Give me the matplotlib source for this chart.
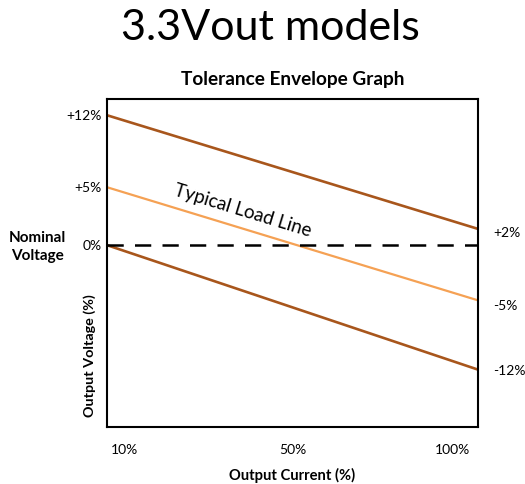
import matplotlib
matplotlib.use("Agg")
import matplotlib.pyplot as plt

plt.rcParams['font.family'] = ['Lato', 'DejaVu Sans']

# Data (schematic tolerance envelope, output voltage deviation in %, as drawn)
load_pos = [0, 100]               # left edge -> right edge of load range
upper_env = [12, 1.5]
typical = [5.35, -5.1]
lower_env = [0, -11.5]
nominal = [0, 0]

xtick_pos = [4.7, 50, 93]
xtick_labels = ["10%", "50%", "100%"]
left_ticks = [12, 5.35, 0]
left_labels = ["+12%", "+5%", "0%"]
right_ticks = [1.2, -5.55, -11.55]
right_labels = ["+2%", "-5%", "-12%"]

brown = "#A8561C"
orange = "#F5A154"

fig = plt.figure(figsize=(5.25, 4.84), dpi=100)
ax = fig.add_axes([107/525, 1-427/484, 371/525, 328/484])

ax.plot(load_pos, upper_env, color=brown, lw=1.9, solid_capstyle='butt')
ax.plot(load_pos, lower_env, color=brown, lw=1.9, solid_capstyle='butt')
ax.plot(load_pos, typical, color=orange, lw=1.6, solid_capstyle='butt')
ax.plot(load_pos, nominal, color='black', lw=1.8, dashes=(6.5, 4.5))

ax.set_xlim(0, 100)
ax.set_ylim(-16.8, 13.5)

for s in ax.spines.values():
    s.set_linewidth(1.5)
    s.set_color('black')

ax.set_xticks(xtick_pos)
ax.set_xticklabels(xtick_labels, fontsize=10)
ax.set_yticks(left_ticks)
ax.set_yticklabels(left_labels, fontsize=10)
ax.tick_params(axis='x', length=0, pad=12)
ax.tick_params(axis='y', length=0, pad=4)

ax2 = ax.twinx()
ax2.set_ylim(ax.get_ylim())
ax2.set_yticks(right_ticks)
ax2.set_yticklabels(right_labels, fontsize=10)
ax2.tick_params(axis='y', length=0, pad=11)
for s in ax2.spines.values():
    s.set_visible(False)

ax.set_title("Tolerance Envelope Graph", fontsize=13.7, fontweight='bold', pad=10)
ax.set_xlabel("Output Current (%)", fontsize=10.6, fontweight='bold', labelpad=9)

fig.text(270/525, 1-28/484, "3.3Vout models", fontsize=31, ha='center', va='center')
fig.text(37/525, 1-247/484, "Nominal\nVoltage", fontsize=11, fontweight='bold',
         ha='center', va='center', linespacing=1.3)
fig.text(90/525, 1-356/484, "Output Voltage (%)", fontsize=10.4, fontweight='bold',
         ha='center', va='center', rotation=90)

ax.text(36.5, 3.2, "Typical Load Line", fontsize=13.5, rotation=-17,
        ha='center', va='center', rotation_mode='anchor')

fig.savefig("out.png", dpi=100)
